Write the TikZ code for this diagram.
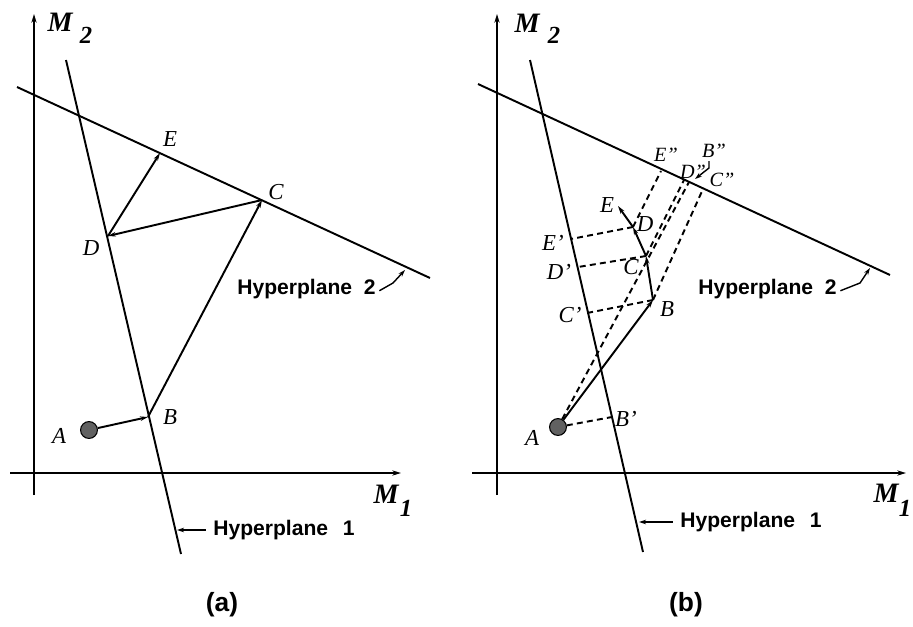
\documentclass[tikz,border=0pt]{standalone}
\usepackage{fontspec}
\setmainfont{Liberation Serif}
\newfontfamily\lsans{Liberation Sans}
\usetikzlibrary{arrows.meta}
\begin{document}
\begin{tikzpicture}[x=0.02cm,y=-0.02cm,
  axis/.style={line width=0.85pt,-{Stealth[length=5pt,width=3pt]}},
  hp/.style={line width=1.1pt},
  move/.style={line width=1.1pt,-{Stealth[length=4.5pt,width=2.6pt]}},
  proj/.style={line width=1.1pt,dash pattern=on 3.4pt off 2.4pt},
  lead/.style={line width=0.8pt,-{Stealth[length=4pt,width=2.6pt]}},
  ptl/.style={font=\fontsize{13}{13}\selectfont\itshape,inner sep=0pt},
  dpl/.style={font=\fontsize{11.5}{11.5}\selectfont\itshape,inner sep=0pt},
  hpl/.style={font=\lsans\bfseries\fontsize{12}{12}\selectfont,inner sep=0pt},
  axl/.style={font=\fontsize{16}{16}\selectfont\bfseries\itshape,inner sep=0pt},
  subl/.style={font=\fontsize{14}{14}\selectfont\bfseries\itshape,inner sep=0pt},
  capl/.style={font=\lsans\bfseries\fontsize{15}{15}\selectfont,inner sep=0pt},
  dot/.style={circle,fill=black!62,draw=black,line width=0.6pt,minimum size=9.6pt,inner sep=0pt}]
\useasboundingbox (0,0) rectangle (913,626);

% ================= panel (a) =================
\coordinate (a-yb) at (34,495);
\coordinate (a-yt) at (34,14);
\coordinate (a-xl) at (10,473);
\coordinate (a-xr) at (401,473);
\draw[axis] (a-yb) -- (a-yt);
\draw[axis] (a-xl) -- (a-xr);
\node[axl] (a-M2) at (60,22) {M};
\node[subl] (a-M2s) at (86,35) {2};
\node[axl] (a-M1) at (386,494) {M};
\node[subl] (a-M1s) at (406,508) {1};

\coordinate (a-h1t) at (66,60);
\coordinate (a-h1b) at (181,554);
\coordinate (a-h2l) at (17,87);
\coordinate (a-h2r) at (430,278);
\draw[hp] (a-h1t) -- (a-h1b);
\draw[hp] (a-h2l) -- (a-h2r);

\node[dot] (a-A) at (89,430) {};
\coordinate (a-B) at (148,417);
\coordinate (a-C) at (262,200);
\coordinate (a-D) at (108,236);
\coordinate (a-E) at (160,153);
\draw[move] (a-A) -- (a-B);
\draw[move] (a-B) -- (a-C);
\draw[move] (a-C) -- (a-D);
\draw[move] (a-D) -- (a-E);

\node[ptl] (a-Al) at (59,436) {A};
\node[ptl] (a-Bl) at (170,417) {B};
\node[ptl] (a-Cl) at (276,192) {C};
\node[ptl] (a-Dl) at (91,248) {D};
\node[ptl] (a-El) at (170,139) {E};

\node[hpl,anchor=west] (a-hp2) at (237,289) {Hyperplane\hspace{0.55em}2};
\coordinate (a-l2k) at (393,283);
\coordinate (a-l2e) at (405,270);
\draw[lead] (a-hp2.east) ++(2pt,-1pt) -- (a-l2k) -- (a-l2e);

\node[hpl,anchor=west] (a-hp1) at (213,530) {Hyperplane\hspace{0.7em}1};
\coordinate (a-l1e) at (177,530);
\draw[lead] (a-hp1.west) ++(-4pt,0) -- (a-l1e);

\node[capl] (a-cap) at (222,605) {(a)};

% ================= panel (b) =================
\coordinate (b-yb) at (497,495);
\coordinate (b-yt) at (497,14);
\coordinate (b-xl) at (472,473);
\coordinate (b-xr) at (906,473);
\draw[axis] (b-yb) -- (b-yt);
\draw[axis] (b-xl) -- (b-xr);
\node[axl] (b-M2) at (527,23) {M};
\node[subl] (b-M2s) at (554,35) {2};
\node[axl] (b-M1) at (886,493) {M};
\node[subl] (b-M1s) at (905,508) {1};

\coordinate (b-h1t) at (530,60);
\coordinate (b-h1b) at (643,552);
\coordinate (b-h2l) at (478,84);
\coordinate (b-h2r) at (890,275);
\draw[hp] (b-h1t) -- (b-h1b);
\draw[hp] (b-h2l) -- (b-h2r);

\node[dot] (b-A) at (558,427) {};
\coordinate (b-B) at (653,300);
\coordinate (b-C) at (646,256);
\coordinate (b-D) at (633,227);
\coordinate (b-E) at (618,206);
% projections onto hyperplane 1
\coordinate (b-B1) at (612,417);
\coordinate (b-C1) at (587,313);
\coordinate (b-D1) at (578,267);
\coordinate (b-E1) at (571,239);
% projections onto hyperplane 2
\coordinate (b-B2) at (689,182);
\coordinate (b-C2) at (703,189);
\coordinate (b-D2) at (684,180);
\coordinate (b-E2) at (661,171);

\draw[proj] (b-A) -- (b-B1);
\draw[proj] (b-B) -- (b-C1);
\draw[proj] (b-C) -- (b-D1);
\draw[proj] (b-D) -- (b-E1);
\draw[proj] (b-A) -- (b-B2);
\draw[proj] (b-B) -- (b-C2);
\draw[proj] (b-C) -- (b-D2);
\draw[proj] (b-D) -- (b-E2);

\draw[move] (b-A) -- (b-B);
\draw[move] (b-B) -- (b-C);
\draw[move] (b-C) -- (b-D);
\draw[move] (b-D) -- (b-E);

\node[ptl] (b-Al) at (532,438) {A};
\node[ptl] (b-Bl) at (667,309) {B};
\node[ptl] (b-Cl) at (631,267) {C};
\node[ptl] (b-Dl) at (645,224) {D};
\node[ptl] (b-El) at (607,205) {E};
\node[ptl] (b-B1l) at (626,419) {B'};
\node[ptl] (b-C1l) at (570,315) {C'};
\node[ptl] (b-D1l) at (559,272) {D'};
\node[ptl] (b-E1l) at (553,243) {E'};
\node[dpl] (b-B2l) at (714,151) {B''};
\node[dpl] (b-C2l) at (722,180) {C''};
\node[dpl] (b-D2l) at (693,172) {D''};
\node[dpl] (b-E2l) at (666,155) {E''};

\coordinate (b-bk1) at (709,161);
\coordinate (b-bk2) at (709,168);
\coordinate (b-bke) at (695,179);
\draw[lead] (b-bk1) -- (b-bk2) -- (b-bke);

\node[hpl,anchor=west] (b-hp2) at (698,289) {Hyperplane\hspace{0.55em}2};
\coordinate (b-l2k) at (860,283);
\coordinate (b-l2e) at (870,268);
\draw[lead] (b-hp2.east) ++(2pt,-1pt) -- (b-l2k) -- (b-l2e);

\node[hpl,anchor=west] (b-hp1) at (680,522) {Hyperplane\hspace{0.7em}1};
\coordinate (b-l1e) at (639,522);
\draw[lead] (b-hp1.west) ++(-4pt,0) -- (b-l1e);

\node[capl] (b-cap) at (686,605) {(b)};
\end{tikzpicture}
\end{document}
